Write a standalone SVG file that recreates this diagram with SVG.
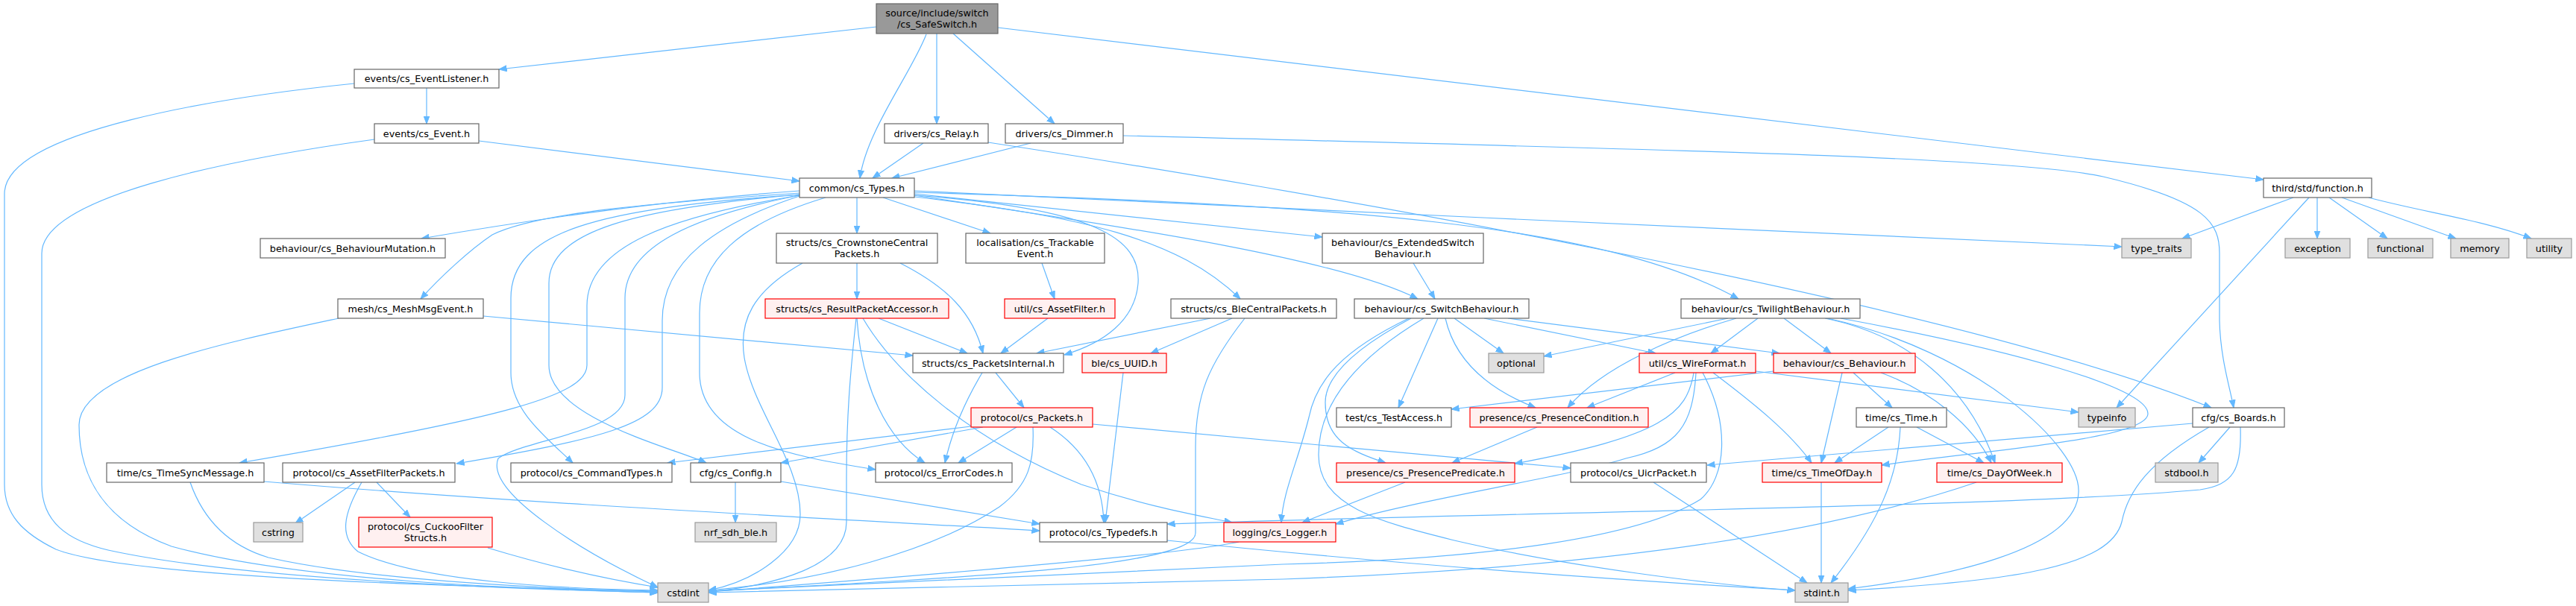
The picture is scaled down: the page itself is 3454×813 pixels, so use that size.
<svg xmlns="http://www.w3.org/2000/svg" width="3454" height="813" viewBox="0 0 3454 813">
<style>
rect{stroke-width:1.2}
.n rect{fill:#ffffff;stroke:#666666}
.r rect{fill:#fff0f0;stroke:#ff0000}
.g rect{fill:#e0e0e0;stroke:#999999}
.root rect{fill:#999999;stroke:#666666}
text{font-family:"DejaVu Sans","Liberation Sans",sans-serif;font-size:12.8px;text-anchor:middle;fill:#000000}
#edges path{fill:none;stroke:#63b8ff;stroke-width:1.2;marker-end:url(#a)}
</style>
<defs>
<marker id="a" markerUnits="userSpaceOnUse" markerWidth="11" markerHeight="9" viewBox="0 0 11 9" refX="10.5" refY="4.5" orient="auto"><path d="M0,0.5 L10.5,4.5 L0,8.5 z" fill="#63b8ff" stroke="#63b8ff" stroke-width="1"/></marker>
</defs>
<rect x="0" y="0" width="3454" height="813" fill="#ffffff" stroke="none"/>
<g id="edges">
<path d="M1175,36 L669,93"/>
<path d="M1242,46 C1222,98 1162,175 1153,239"/>
<path d="M1256,45 L1256,166"/>
<path d="M1278,45 L1414,166"/>
<path d="M1338,37 L3035,241"/>
<path d="M572,118 L572,166"/>
<path d="M475,112 C300,130 6,175 6,260 L6,650 C6,690 30,715 75,737 C160,770 500,785 882,793"/>
<path d="M642,189 L1072,243"/>
<path d="M502,187 C300,215 56,265 56,340 L56,650 C56,700 90,725 145,738 C300,772 600,788 882,795"/>
<path d="M1238,192 L1170,239"/>
<path d="M1325,191 C1700,248 2600,400 2965,547"/>
<path d="M1382,192 L1196,239"/>
<path d="M1506,182 C2200,200 2700,210 2820,237 C2960,270 2976,300 2976,340 L2976,430 C2977,480 2990,520 2995,547"/>
<path d="M1072,256 C950,265 800,280 565,320"/>
<path d="M1072,259 C880,272 720,285 660,315 C630,335 590,372 564,401"/>
<path d="M1072,261 C800,280 685,310 685,400 L685,500 C685,550 730,585 768,621"/>
<path d="M1072,261 C850,280 736,310 736,380 L736,490 C736,560 900,600 947,621"/>
<path d="M1072,262 C900,290 787,330 787,410 L787,490 C787,530 680,560 321,621"/>
<path d="M1072,262 C930,290 838,330 838,400 L838,530 C838,580 700,590 668,615 C650,660 780,740 882,788"/>
<path d="M1072,263 C960,300 888,350 888,430 L888,520 C888,570 800,590 612,622"/>
<path d="M1107,265 C990,300 938,350 938,420 L938,500 C938,590 1060,612 1174,630"/>
<path d="M1149,265 L1149,313"/>
<path d="M1184,265 L1328,313"/>
<path d="M1226,260 L1773,318"/>
<path d="M1226,262 C1550,310 1800,350 1901,401"/>
<path d="M1226,258 C1800,275 2150,300 2331,401"/>
<path d="M1226,256 C1700,280 2400,310 2845,331"/>
<path d="M1226,262 C1470,280 1530,320 1526,380 C1522,430 1480,460 1427,476"/>
<path d="M1226,264 C1450,290 1580,320 1663,401"/>
<path d="M3075,265 L2926,320"/>
<path d="M3107,265 L3107,320"/>
<path d="M3123,265 L3201,320"/>
<path d="M3140,265 L3293,320"/>
<path d="M3176,265 C3250,285 3330,295 3394,320"/>
<path d="M3096,265 L2838,547"/>
<path d="M1149,353 L1149,401"/>
<path d="M1207,353 C1270,385 1305,420 1318,474"/>
<path d="M1076,353 C1010,390 990,430 998,480 C1010,550 1073,620 1073,690 C1073,740 1010,780 950,792"/>
<path d="M1397,353 L1414,401"/>
<path d="M1895,353 L1924,401"/>
<path d="M648,424 L1224,477"/>
<path d="M454,427 C300,460 106,500 106,570 C106,640 140,700 230,733 C400,780 700,790 882,795"/>
<path d="M1178,427 L1297,474"/>
<path d="M1149,427 C1155,520 1190,590 1240,621"/>
<path d="M1148,427 C1140,500 1135,560 1135,640 L1135,700 C1135,760 1040,785 950,794"/>
<path d="M1157,427 C1200,500 1300,590 1450,650 C1540,680 1600,690 1652,701"/>
<path d="M1405,427 L1342,474"/>
<path d="M1623,427 L1390,474"/>
<path d="M1652,427 L1543,474"/>
<path d="M1669,427 C1620,490 1603,530 1603,600 L1603,715 C1603,760 1300,775 950,793"/>
<path d="M1506,500 L1482,701"/>
<path d="M1335,500 L1373,547"/>
<path d="M1317,500 C1290,545 1275,585 1267,621"/>
<path d="M1363,573 L1285,621"/>
<path d="M1408,573 C1450,600 1478,640 1480,701"/>
<path d="M1385,573 C1387,620 1380,650 1340,680 C1250,740 1100,780 950,792"/>
<path d="M1302,572 L895,621"/>
<path d="M1318,573 L1047,621"/>
<path d="M1465,569 L2106,628"/>
<path d="M1950,427 L2016,474"/>
<path d="M1928,427 L1875,547"/>
<path d="M1938,427 C1950,480 1990,520 2059,547"/>
<path d="M1892,427 C1830,460 1777,500 1777,540 C1777,590 1810,605 1858,621"/>
<path d="M1889,427 C1800,470 1765,510 1755,560 C1740,620 1720,660 1718,701"/>
<path d="M1909,427 C1820,480 1768,540 1768,610 C1768,680 1850,700 1950,725 C2100,760 2300,785 2407,792"/>
<path d="M1990,427 L2220,474"/>
<path d="M2022,427 L2386,474"/>
<path d="M2317,427 L2070,478"/>
<path d="M2328,427 C2250,450 2150,490 2102,547"/>
<path d="M2357,427 L2294,474"/>
<path d="M2392,427 L2455,474"/>
<path d="M2468,427 C2700,470 2880,520 2880,555 C2880,590 2650,605 2523,624"/>
<path d="M2447,427 C2560,450 2640,520 2675,621"/>
<path d="M2450,427 C2650,470 2790,600 2787,660 C2785,740 2600,775 2478,790"/>
<path d="M2246,500 L2128,547"/>
<path d="M2271,500 C2262,555 2230,585 2031,622"/>
<path d="M2274,500 C2270,570 2250,600 2180,615 C2100,640 1900,670 1791,703"/>
<path d="M2283,500 C2320,570 2315,640 2280,670 C2200,720 2000,750 1720,757 L950,793"/>
<path d="M2297,500 C2350,540 2400,580 2429,621"/>
<path d="M2354,498 L2787,553"/>
<path d="M2378,498 L1946,549"/>
<path d="M2470,500 L2442,621"/>
<path d="M2485,500 L2537,547"/>
<path d="M2522,500 C2590,525 2645,570 2670,621"/>
<path d="M2532,573 L2460,621"/>
<path d="M2570,573 L2660,621"/>
<path d="M2548,573 C2545,640 2520,700 2455,782"/>
<path d="M2990,573 L2948,621"/>
<path d="M2940,568 L2289,624"/>
<path d="M2962,573 C2880,620 2853,660 2845,700 C2830,760 2700,780 2478,792"/>
<path d="M3004,573 C3006,630 2995,650 2950,657 C2700,680 2000,688 1565,703"/>
<path d="M1565,725 C1900,760 2200,780 2407,792"/>
<path d="M1661,727 C1580,745 1200,775 950,794"/>
<path d="M2650,647 C2480,705 2200,760 1720,777 L950,795"/>
<path d="M2442,647 L2442,782"/>
<path d="M2217,647 L2423,782"/>
<path d="M2061,573 L1947,621"/>
<path d="M1884,647 L1746,701"/>
<path d="M354,646 C700,675 1100,695 1394,712"/>
<path d="M255,647 C270,690 300,730 360,748 C500,780 750,790 882,794"/>
<path d="M476,647 L396,702"/>
<path d="M505,647 L550,694"/>
<path d="M485,647 C460,690 455,720 480,740 C560,780 750,790 882,792"/>
<path d="M654,735 C720,755 800,775 882,788"/>
<path d="M986,647 L986,701"/>
<path d="M1047,646 L1394,703"/>
</g>
<g id="n_root" class="root"><rect x="1175" y="5" width="163" height="40"/><text x="1256.5" y="22">source/include/switch</text><text x="1256.5" y="37">/cs_SafeSwitch.h</text></g>
<g id="n_eventlistener" class="n"><rect x="475" y="93" width="194" height="25"/><text x="572" y="110">events/cs_EventListener.h</text></g>
<g id="n_event" class="n"><rect x="502" y="166" width="140" height="26"/><text x="572" y="183.5">events/cs_Event.h</text></g>
<g id="n_relay" class="n"><rect x="1186" y="166" width="139" height="26"/><text x="1255.5" y="183.5">drivers/cs_Relay.h</text></g>
<g id="n_dimmer" class="n"><rect x="1348" y="166" width="158" height="26"/><text x="1427" y="183.5">drivers/cs_Dimmer.h</text></g>
<g id="n_types" class="n"><rect x="1072" y="239" width="154" height="26"/><text x="1149" y="256.5">common/cs_Types.h</text></g>
<g id="n_function" class="n"><rect x="3035" y="239" width="145" height="26"/><text x="3107.5" y="256.5">third/std/function.h</text></g>
<g id="n_behaviourmutation" class="n"><rect x="349" y="320" width="248" height="26"/><text x="473" y="337.5">behaviour/cs_BehaviourMutation.h</text></g>
<g id="n_crownstonecentral" class="n"><rect x="1041" y="313" width="216" height="40"/><text x="1149" y="330">structs/cs_CrownstoneCentral</text><text x="1149" y="345">Packets.h</text></g>
<g id="n_trackable" class="n"><rect x="1295" y="313" width="186" height="40"/><text x="1388" y="330">localisation/cs_Trackable</text><text x="1388" y="345">Event.h</text></g>
<g id="n_extendedswitch" class="n"><rect x="1773" y="313" width="216" height="40"/><text x="1881" y="330">behaviour/cs_ExtendedSwitch</text><text x="1881" y="345">Behaviour.h</text></g>
<g id="n_type_traits" class="g"><rect x="2845" y="320" width="93" height="26"/><text x="2891.5" y="337.5">type_traits</text></g>
<g id="n_exception" class="g"><rect x="3064" y="320" width="87" height="26"/><text x="3107.5" y="337.5">exception</text></g>
<g id="n_functional" class="g"><rect x="3175" y="320" width="87" height="26"/><text x="3218.5" y="337.5">functional</text></g>
<g id="n_memory" class="g"><rect x="3286" y="320" width="78" height="26"/><text x="3325" y="337.5">memory</text></g>
<g id="n_utility" class="g"><rect x="3388" y="320" width="60" height="26"/><text x="3418" y="337.5">utility</text></g>
<g id="n_meshmsgevent" class="n"><rect x="453" y="401" width="195" height="26"/><text x="550.5" y="418.5">mesh/cs_MeshMsgEvent.h</text></g>
<g id="n_resultpacketaccessor" class="r"><rect x="1026" y="401" width="246" height="26"/><text x="1149" y="418.5">structs/cs_ResultPacketAccessor.h</text></g>
<g id="n_assetfilter" class="r"><rect x="1347" y="401" width="148" height="26"/><text x="1421" y="418.5">util/cs_AssetFilter.h</text></g>
<g id="n_blecentral" class="n"><rect x="1570" y="401" width="222" height="26"/><text x="1681" y="418.5">structs/cs_BleCentralPackets.h</text></g>
<g id="n_switchbehaviour" class="n"><rect x="1816" y="401" width="234" height="26"/><text x="1933" y="418.5">behaviour/cs_SwitchBehaviour.h</text></g>
<g id="n_twilightbehaviour" class="n"><rect x="2254" y="401" width="240" height="26"/><text x="2374" y="418.5">behaviour/cs_TwilightBehaviour.h</text></g>
<g id="n_packetsinternal" class="n"><rect x="1224" y="474" width="202" height="26"/><text x="1325" y="491.5">structs/cs_PacketsInternal.h</text></g>
<g id="n_uuid" class="r"><rect x="1451" y="474" width="113" height="26"/><text x="1507.5" y="491.5">ble/cs_UUID.h</text></g>
<g id="n_optional" class="g"><rect x="1996" y="474" width="74" height="26"/><text x="2033" y="491.5">optional</text></g>
<g id="n_wireformat" class="r"><rect x="2198" y="474" width="156" height="26"/><text x="2276" y="491.5">util/cs_WireFormat.h</text></g>
<g id="n_behaviour" class="r"><rect x="2378" y="474" width="190" height="26"/><text x="2473" y="491.5">behaviour/cs_Behaviour.h</text></g>
<g id="n_packets" class="r"><rect x="1302" y="547" width="163" height="26"/><text x="1383.5" y="564.5">protocol/cs_Packets.h</text></g>
<g id="n_testaccess" class="n"><rect x="1792" y="547" width="154" height="26"/><text x="1869" y="564.5">test/cs_TestAccess.h</text></g>
<g id="n_presencecondition" class="r"><rect x="1971" y="547" width="239" height="26"/><text x="2090.5" y="564.5">presence/cs_PresenceCondition.h</text></g>
<g id="n_time" class="n"><rect x="2489" y="547" width="121" height="26"/><text x="2549.5" y="564.5">time/cs_Time.h</text></g>
<g id="n_typeinfo" class="g"><rect x="2787" y="547" width="76" height="26"/><text x="2825" y="564.5">typeinfo</text></g>
<g id="n_boards" class="n"><rect x="2940" y="547" width="123" height="26"/><text x="3001.5" y="564.5">cfg/cs_Boards.h</text></g>
<g id="n_timesyncmessage" class="n"><rect x="143" y="621" width="211" height="26"/><text x="248.5" y="638.5">time/cs_TimeSyncMessage.h</text></g>
<g id="n_assetfilterpackets" class="n"><rect x="379" y="621" width="231" height="26"/><text x="494.5" y="638.5">protocol/cs_AssetFilterPackets.h</text></g>
<g id="n_commandtypes" class="n"><rect x="685" y="621" width="216" height="26"/><text x="793" y="638.5">protocol/cs_CommandTypes.h</text></g>
<g id="n_config" class="n"><rect x="926" y="621" width="121" height="26"/><text x="986.5" y="638.5">cfg/cs_Config.h</text></g>
<g id="n_errorcodes" class="n"><rect x="1174" y="621" width="183" height="26"/><text x="1265.5" y="638.5">protocol/cs_ErrorCodes.h</text></g>
<g id="n_presencepredicate" class="r"><rect x="1792" y="621" width="239" height="26"/><text x="1911.5" y="638.5">presence/cs_PresencePredicate.h</text></g>
<g id="n_uicrpacket" class="n"><rect x="2106" y="621" width="182" height="26"/><text x="2197" y="638.5">protocol/cs_UicrPacket.h</text></g>
<g id="n_timeofday" class="r"><rect x="2363" y="621" width="160" height="26"/><text x="2443" y="638.5">time/cs_TimeOfDay.h</text></g>
<g id="n_dayofweek" class="r"><rect x="2597" y="621" width="168" height="26"/><text x="2681" y="638.5">time/cs_DayOfWeek.h</text></g>
<g id="n_stdbool" class="g"><rect x="2890" y="621" width="84" height="26"/><text x="2932" y="638.5">stdbool.h</text></g>
<g id="n_cstring" class="g"><rect x="340" y="701" width="66" height="26"/><text x="373" y="718.5">cstring</text></g>
<g id="n_cuckoofilter" class="r"><rect x="481" y="694" width="179" height="40"/><text x="570.5" y="711">protocol/cs_CuckooFilter</text><text x="570.5" y="726">Structs.h</text></g>
<g id="n_nrf_sdh_ble" class="g"><rect x="932" y="701" width="109" height="26"/><text x="986.5" y="718.5">nrf_sdh_ble.h</text></g>
<g id="n_typedefs" class="n"><rect x="1394" y="701" width="171" height="26"/><text x="1479.5" y="718.5">protocol/cs_Typedefs.h</text></g>
<g id="n_logger" class="r"><rect x="1641" y="701" width="150" height="26"/><text x="1716" y="718.5">logging/cs_Logger.h</text></g>
<g id="n_cstdint" class="g"><rect x="882" y="782" width="68" height="26"/><text x="916" y="799.5">cstdint</text></g>
<g id="n_stdint" class="g"><rect x="2407" y="782" width="71" height="26"/><text x="2442.5" y="799.5">stdint.h</text></g>
</svg>
